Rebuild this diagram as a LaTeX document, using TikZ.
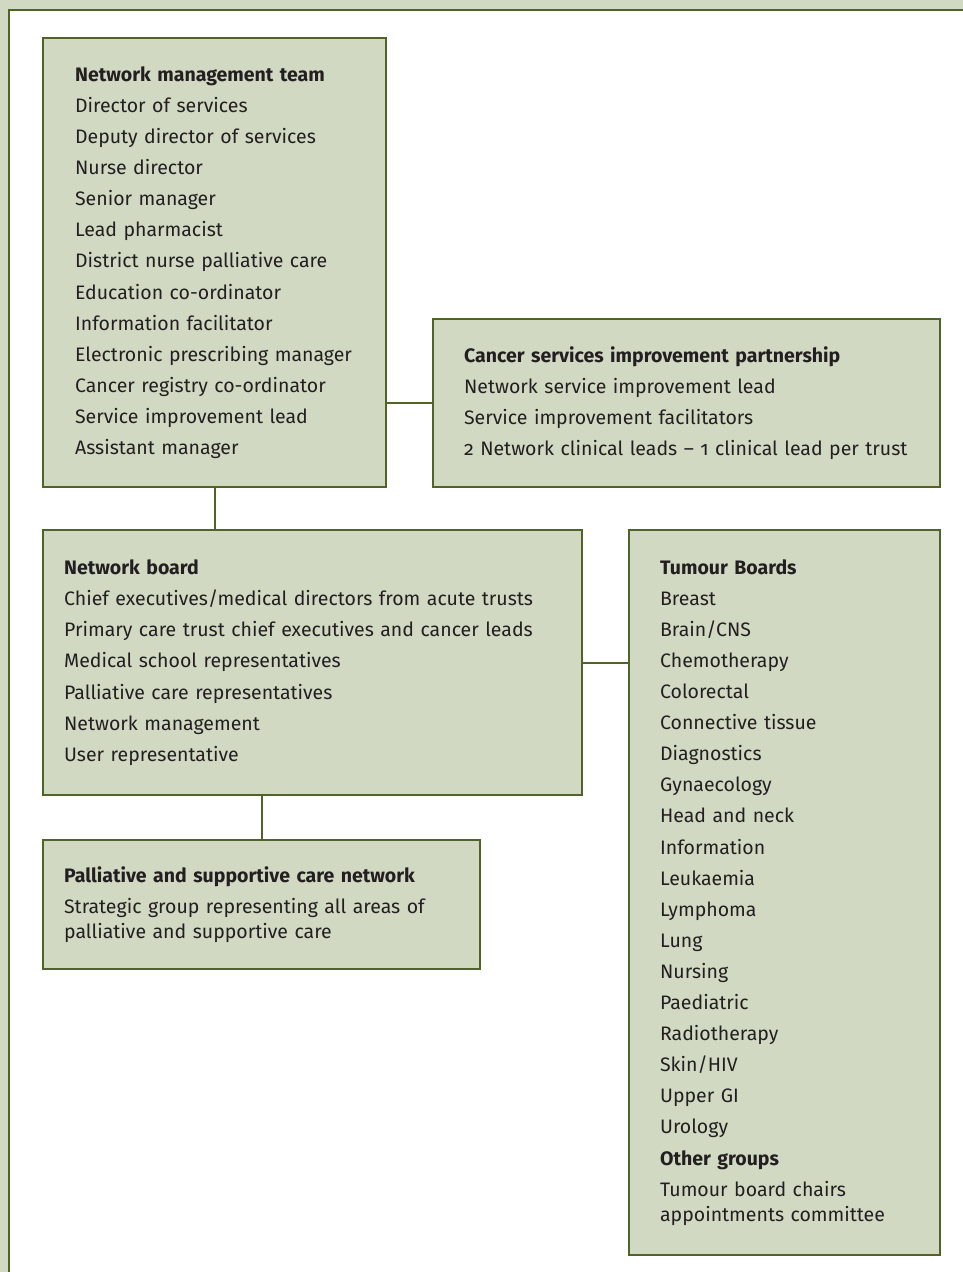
\documentclass[tikz,border=0pt]{standalone}
\usepackage{fontspec}
\setmainfont{Fira Sans}[Numbers=OldStyle]
\usetikzlibrary{positioning}

\definecolor{boxfill}{HTML}{D1D9C3}
\definecolor{boxline}{HTML}{506428}
\definecolor{inktext}{HTML}{231F20}

\tikzset{
    unitbox/.style={draw=boxline,fill=boxfill,line width=2.2pt,anchor=north west,align=left,text=inktext,
        font=\fontsize{19.5}{25.5}\selectfont,inner ysep=0pt},
    link/.style={draw=boxline,line width=2.2pt}
}
\newcommand{\nl}{\\[5.6pt]}

\begin{document}
\begin{tikzpicture}[x=1pt,y=-1pt]
            \useasboundingbox (0,0) rectangle (963,1272);
            % frame
            \fill[boxfill] (0,0) rectangle (963,1272);
            \draw[draw=boxline,line width=2pt,fill=white] (9,1280) -- (9,10) -- (975,10) -- (975,1280);

            \node[unitbox,minimum width=343pt,minimum height=449pt,text width=279pt,inner xsep=32pt] (mgmt) at (42,37)
                {\textbf{Network management team}\nl Director of services\nl Deputy director of services\nl Nurse director\nl
                Senior manager\nl Lead pharmacist\nl District nurse palliative care\nl Education co-ordinator\nl
                Information facilitator\nl Electronic prescribing manager\nl Cancer registry co-ordinator\nl
                Service improvement lead\nl Assistant manager};
            \node[unitbox,minimum width=507pt,minimum height=168pt,text width=445pt,inner xsep=31pt] (csip) at (432,318)
                {\textbf{Cancer services improvement partnership}\nl Network service improvement lead\nl
                Service improvement facilitators\nl 2 Network clinical leads -- 1 clinical lead per trust};
            \node[unitbox,minimum width=539pt,minimum height=265pt,text width=497pt,inner xsep=21pt] (board) at (42,529)
                {\textbf{Network board}\nl Chief executives/medical directors from acute trusts\nl
                Primary care trust chief executives and cancer leads\nl Medical school representatives\nl
                Palliative care representatives\nl Network management\nl User representative};
            \node[unitbox,minimum width=437pt,minimum height=129pt,text width=395pt,inner xsep=21pt] (palli) at (42,839)
                {\textbf{Palliative and supportive care network}\nl Strategic group representing all areas of\\
                palliative and supportive care};
            \node[unitbox,minimum width=311pt,minimum height=725pt,text width=249pt,inner xsep=31pt] (tumour) at (628,529)
                {\textbf{Tumour Boards}\nl Breast\nl Brain/CNS\nl Chemotherapy\nl Colorectal\nl Connective tissue\nl
                Diagnostics\nl Gynaecology\nl Head and neck\nl Information\nl Leukaemia\nl Lymphoma\nl Lung\nl
                Nursing\nl Paediatric\nl Radiotherapy\nl Skin/HIV\nl Upper GI\nl Urology\nl
                \textbf{Other groups}\nl Tumour board chairs\\ appointments committee};

            \draw[link] (mgmt.east |- csip.west) -- (csip.west);
            \draw[link] (mgmt.south) -- (mgmt.south |- board.north);
            \draw[link] (board.east) -- (board.east -| tumour.west);
            \draw[link] (palli.north |- board.south) -- (palli.north);
        \end{tikzpicture}
\end{document}
